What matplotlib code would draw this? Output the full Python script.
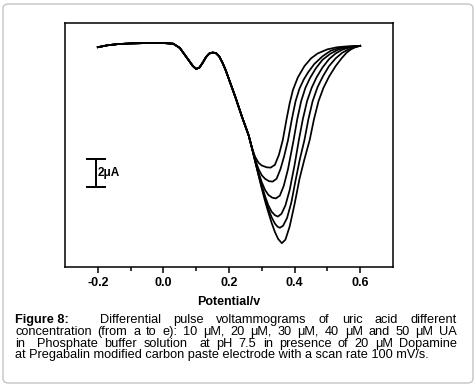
import matplotlib.pyplot as plt
from matplotlib.patches import FancyBboxPatch

plt.rcParams['font.family'] = ['Liberation Sans', 'DejaVu Sans']

# shared part of the scans (potential in V, current in uA)
base_v = [-0.20, -0.17, -0.14, -0.10, -0.05, 0.00, 0.03, 0.05, 0.07, 0.09, 0.10, 0.11,
          0.12, 0.13, 0.14, 0.15, 0.16, 0.17, 0.18, 0.19, 0.20, 0.22, 0.24, 0.26]
base_i = [-0.30, -0.16, -0.08, -0.03, 0.0, 0.0, -0.05, -0.35, -1.0, -1.65, -1.85, -1.75,
          -1.4, -1.0, -0.75, -0.68, -0.72, -0.95, -1.4, -1.95, -2.6, -3.9, -5.3, -6.6]

# per-concentration part of each scan
v1 = [0.27, 0.28, 0.29, 0.30, 0.315, 0.327, 0.34, 0.352, 0.364, 0.375, 0.385, 0.395, 0.41,
      0.43, 0.45, 0.47, 0.50, 0.53, 0.56, 0.60]
i1 = [-7.5, -8.15, -8.55, -8.75, -8.88, -8.9, -8.7, -8.0, -6.93, -5.5, -4.3, -3.35, -2.45,
      -1.65, -1.1, -0.75, -0.45, -0.3, -0.24, -0.2]
v2 = [0.27, 0.28, 0.29, 0.30, 0.31, 0.322, 0.333, 0.345, 0.357, 0.368, 0.380, 0.392, 0.403,
      0.415, 0.428, 0.441, 0.46, 0.485, 0.51, 0.54, 0.57, 0.60]
i2 = [-7.5, -8.35, -9.0, -9.45, -9.7, -9.87, -9.9, -9.7, -9.0, -8.1, -6.93, -5.4, -4.15,
      -3.25, -2.6, -2.1, -1.5, -0.95, -0.55, -0.33, -0.25, -0.2]
v3 = [0.27, 0.28, 0.29, 0.30, 0.31, 0.32, 0.332, 0.343, 0.355, 0.367, 0.38, 0.397, 0.408,
      0.420, 0.433, 0.447, 0.465, 0.485, 0.51, 0.535, 0.56, 0.60]
i3 = [-7.5, -8.4, -9.25, -9.95, -10.5, -10.85, -11.05, -11.1, -10.9, -10.2, -9.0, -6.93, -5.45,
      -4.15, -3.2, -2.5, -1.8, -1.2, -0.75, -0.45, -0.3, -0.2]
v4 = [0.27, 0.28, 0.29, 0.30, 0.31, 0.32, 0.33, 0.34, 0.349, 0.36, 0.372, 0.385, 0.40, 0.413,
      0.425, 0.438, 0.452, 0.467, 0.485, 0.505, 0.525, 0.545, 0.57, 0.60]
i4 = [-7.5, -8.45, -9.35, -10.2, -10.95, -11.6, -12.05, -12.3, -12.4, -12.2, -11.6, -10.5, -8.7,
      -6.93, -5.45, -4.15, -3.2, -2.45, -1.75, -1.15, -0.75, -0.48, -0.3, -0.2]
v5 = [0.27, 0.28, 0.29, 0.30, 0.31, 0.32, 0.33, 0.34, 0.348, 0.355, 0.365, 0.377, 0.39, 0.403,
      0.416, 0.430, 0.442, 0.455, 0.47, 0.487, 0.505, 0.525, 0.545, 0.565, 0.58, 0.60]
i5 = [-7.5, -8.45, -9.4, -10.3, -11.1, -11.85, -12.45, -12.9, -13.12, -13.2, -13.05, -12.5, -11.4,
      -9.8, -8.3, -6.93, -5.45, -4.15, -3.15, -2.35, -1.65, -1.1, -0.7, -0.45, -0.32, -0.2]
v6 = [0.27, 0.28, 0.29, 0.30, 0.31, 0.32, 0.33, 0.34, 0.35, 0.361, 0.372, 0.385, 0.40, 0.415,
      0.43, 0.446, 0.459, 0.473, 0.488, 0.505, 0.525, 0.543, 0.558, 0.572, 0.585, 0.60]
i6 = [-7.5, -8.5, -9.45, -10.4, -11.3, -12.1, -12.85, -13.5, -14.0, -14.3, -14.05, -13.1, -11.5,
      -9.7, -8.3, -6.93, -5.45, -4.15, -3.2, -2.4, -1.65, -1.1, -0.7, -0.45, -0.3, -0.2]

scans = [(v1, i1), (v2, i2), (v3, i3), (v4, i4), (v5, i5), (v6, i6)]

xticks = [-0.2, 0.0, 0.2, 0.4, 0.6]
xticklabels = ['-0.2', '0.0', '0.2', '0.4', '0.6']

W, H = 476, 389
fig = plt.figure(figsize=(W / 100, H / 100), dpi=100)
ax = fig.add_axes([65 / W, 1 - 267 / H, 328 / W, 244 / H])

for v, i in scans:
    ax.plot(base_v + v, base_i + i, color='black', lw=1.25, solid_joinstyle='round')

# 2 uA scale bar
ax.plot([-0.205, -0.205], [-8.3, -10.3], color='black', lw=1.4)
ax.plot([-0.232, -0.178], [-8.3, -8.3], color='black', lw=1.4)
ax.plot([-0.232, -0.178], [-10.3, -10.3], color='black', lw=1.4)
ax.text(-0.200, -9.3, '2μA', fontsize=8.5, fontweight='bold', va='center', ha='left')

ax.set_xlim(-0.3, 0.7)
ax.set_ylim(-16.0, 1.43)
ax.set_xticks(xticks)
ax.set_xticklabels(xticklabels, fontsize=9, fontweight='bold')
ax.set_xticks([-0.1, 0.1, 0.3, 0.5], minor=True)
ax.set_yticks([])
ax.tick_params(axis='x', which='major', direction='out', length=4, width=1.1, pad=3)
ax.tick_params(axis='x', which='minor', direction='out', length=3, width=1.1)
for s in ax.spines.values():
    s.set_linewidth(1.1)
ax.set_xlabel('Potential/v', fontsize=9, fontweight='bold', labelpad=5)

# rounded frame round the whole figure
fig.patches.append(FancyBboxPatch((3 / W, 6 / H), 470 / W, 379 / H,
                                  boxstyle='round,pad=0,rounding_size=0.012',
                                  transform=fig.transFigure, facecolor='none',
                                  edgecolor='#c4c4c4', lw=1.0))

# caption, justified like the original
caption = [
    [('Figure 8:', 'bold', 2.5), ('Differential', 'normal', 1), ('pulse', 'normal', 1),
     ('voltammograms', 'normal', 1), ('of', 'normal', 1), ('uric', 'normal', 1),
     ('acid', 'normal', 1), ('different', 'normal', 0)],
    'concentration (from a to e): 10 μM, 20 μM, 30 μM, 40 μM and 50 μM UA',
    'in  Phosphate buffer solution  at pH 7.5 in presence of 20 μM Dopamine',
    'at Pregabalin modified carbon paste electrode with a scan rate 100 mV/s.',
]
x0, x1 = 15, 457
rows = [320, 332, 344, 355]
fig.canvas.draw()
r = fig.canvas.get_renderer()
# size the caption so that its last line is as wide as in the original
probe = fig.text(0, 0, caption[-1], fontsize=10)
fs = 10 * 415 / probe.get_window_extent(r).width
probe.remove()
for k, line in enumerate(caption):
    if isinstance(line, str):
        parts = line.split(' ')
        words = []
        for p in parts:
            if p == '':
                words[-1] = (words[-1][0], words[-1][1], words[-1][2] + 1)
            else:
                words.append((p, 'normal', 1))
        words[-1] = (words[-1][0], 'normal', 0)
    else:
        words = line
    y = 1 - rows[k] / H
    if k == len(caption) - 1:
        fig.text(x0 / W, y, ' '.join(w[0] for w in words), fontsize=fs, va='center', ha='left')
        continue
    arts = [fig.text(0, y, w[0], fontsize=fs, fontweight=w[1], va='center', ha='left') for w in words]
    widths = [a.get_window_extent(r).width for a in arts]
    nsp = sum(w[2] for w in words)
    gap = (x1 - x0 - sum(widths)) / nsp
    x = x0
    for a, wd, w in zip(arts, widths, words):
        a.set_x(x / W)
        x += wd + gap * w[2]

fig.savefig('out.png', dpi=100)
